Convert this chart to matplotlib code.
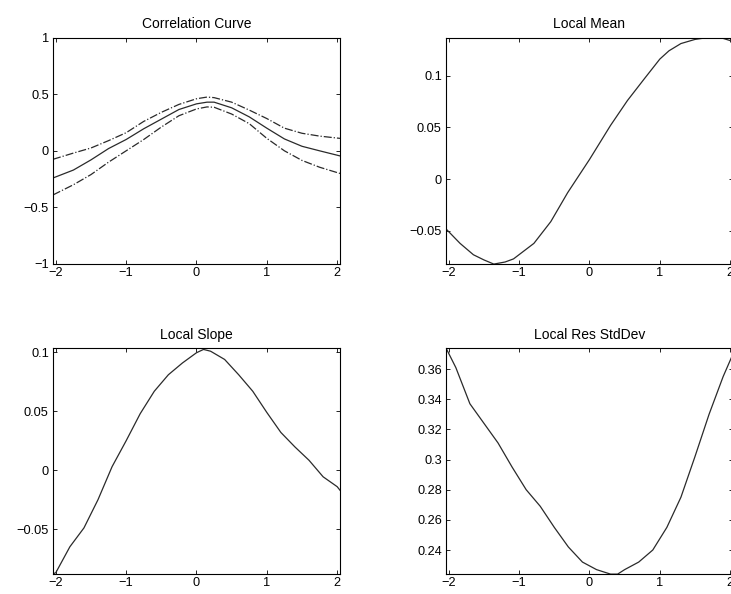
import numpy as np
import matplotlib.pyplot as plt

plt.rcParams['font.family'] = ['Liberation Sans', 'DejaVu Sans']

# Correlation curve with upper / lower bands
corr_x = [-2.04, -1.75, -1.5, -1.25, -1.0, -0.75, -0.5, -0.25, 0.0, 0.15, 0.25,
          0.5, 0.75, 1.0, 1.25, 1.5, 1.75, 2.04]
corr_mid = [-0.24, -0.17, -0.08, 0.02, 0.10, 0.195, 0.28, 0.365, 0.415, 0.43, 0.43,
            0.38, 0.30, 0.20, 0.105, 0.04, 0.0, -0.045]
corr_up = [-0.075, -0.02, 0.025, 0.09, 0.16, 0.26, 0.34, 0.41, 0.46, 0.475, 0.47,
           0.43, 0.36, 0.285, 0.20, 0.155, 0.13, 0.11]
corr_lo = [-0.39, -0.30, -0.21, -0.10, 0.0, 0.10, 0.21, 0.31, 0.37, 0.388, 0.385,
           0.325, 0.24, 0.11, 0.0, -0.085, -0.145, -0.20]

# Local mean
mean_x = [-2.04, -1.84, -1.65, -1.5, -1.36, -1.2, -1.08, -0.79, -0.55, -0.31, 0.0,
          0.30, 0.54, 0.78, 1.0, 1.13, 1.3, 1.5, 1.7, 1.9, 2.04]
mean_y = [-0.048, -0.062, -0.073, -0.078, -0.082, -0.080, -0.077, -0.062, -0.041,
          -0.013, 0.019, 0.052, 0.076, 0.097, 0.116, 0.124, 0.131, 0.135, 0.137,
          0.136, 0.133]

# Local slope
slope_x = [-2.04, -2.0, -1.8, -1.6, -1.4, -1.2, -1.0, -0.8, -0.6, -0.4, -0.2, 0.0,
           0.1, 0.2, 0.4, 0.6, 0.8, 1.0, 1.2, 1.4, 1.6, 1.8, 2.0, 2.04]
slope_y = [-0.088, -0.087, -0.065, -0.049, -0.025, 0.003, 0.025, 0.048, 0.067,
           0.081, 0.091, 0.0997, 0.1025, 0.101, 0.094, 0.081, 0.067, 0.049, 0.032,
           0.0197, 0.0084, -0.0056, -0.014, -0.017]

# Local residual std dev
sd_x = [-2.04, -1.9, -1.7, -1.5, -1.3, -1.1, -0.9, -0.7, -0.5, -0.3, -0.1, 0.1,
        0.3, 0.4, 0.5, 0.7, 0.9, 1.1, 1.3, 1.5, 1.7, 1.9, 2.04]
sd_y = [0.374, 0.361, 0.337, 0.324, 0.311, 0.295, 0.280, 0.269, 0.255, 0.242,
        0.232, 0.227, 0.224, 0.224, 0.227, 0.232, 0.240, 0.255, 0.275, 0.302,
        0.330, 0.355, 0.370]

fig = plt.figure(figsize=(7.31, 5.94), dpi=100)
w, h = 0.3926, 0.381
ax1 = fig.add_axes([0.0725, 0.5556, w, h])
ax2 = fig.add_axes([0.6101, 0.5556, w, h])
ax3 = fig.add_axes([0.0725, 0.0337, w, h])
ax4 = fig.add_axes([0.6101, 0.0337, w, h])

lc = '#2a2a2a'
tfs = 10

ax1.plot(corr_x, corr_mid, color=lc, lw=0.9)
ax1.plot(corr_x, corr_up, color=lc, lw=0.9, ls='-.')
ax1.plot(corr_x, corr_lo, color=lc, lw=0.9, ls='-.')
ax1.set_ylim(-1, 1)
ax1.set_yticks([-1, -0.5, 0, 0.5, 1])
ax1.set_yticklabels(['\u22121', '\u22120.5', '0', '0.5', '1'])
ax1.set_title('Correlation Curve', fontsize=tfs, pad=7)

ax2.plot(mean_x, mean_y, color=lc, lw=0.9)
ax2.set_ylim(-0.0819, 0.1367)
ax2.set_yticks([-0.05, 0, 0.05, 0.1])
ax2.set_yticklabels(['\u22120.05', '0', '0.05', '0.1'])
ax2.set_title('Local Mean', fontsize=tfs, pad=7)

ax3.plot(slope_x, slope_y, color=lc, lw=0.9)
ax3.set_ylim(-0.0881, 0.104)
ax3.set_yticks([-0.05, 0, 0.05, 0.1])
ax3.set_yticklabels(['\u22120.05', '0', '0.05', '0.1'])
ax3.set_title('Local Slope', fontsize=tfs, pad=6)

ax4.plot(sd_x, sd_y, color=lc, lw=0.9)
ax4.set_ylim(0.2241, 0.3742)
ax4.set_yticks([0.24, 0.26, 0.28, 0.3, 0.32, 0.34, 0.36])
ax4.set_yticklabels(['0.24', '0.26', '0.28', '0.3', '0.32', '0.34', '0.36'])
ax4.set_title('Local Res StdDev', fontsize=tfs, pad=6)

for ax in (ax1, ax2, ax3, ax4):
    ax.set_xlim(-2.04, 2.04)
    ax.set_xticks([-2, -1, 0, 1, 2])
    ax.set_xticklabels(['\u22122', '\u22121', '0', '1', '2'])
    ax.tick_params(direction='in', top=True, right=True, length=3, width=0.6,
                   labelsize=9.2, pad=3)
    ax.tick_params(axis='x', pad=2.5)
    for s in ax.spines.values():
        s.set_linewidth(0.8)

plt.savefig('out.png', dpi=100)
